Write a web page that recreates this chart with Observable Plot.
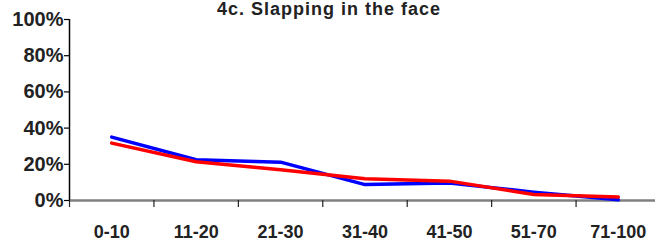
<!DOCTYPE html>
<html>
<head>
<meta charset="utf-8">
<script src="https://cdn.jsdelivr.net/npm/d3@7"></script>
<script src="https://cdn.jsdelivr.net/npm/@observablehq/plot@0.6"></script>
<style>
  html, body { margin: 0; padding: 0; background: #fff; }
  #wrap { position: relative; width: 655px; height: 244px; overflow: hidden; }
  #title { position: absolute; left: 0; top: 0; width: 658px; text-align: center;
    font-family: "Liberation Sans", Arial, sans-serif; font-weight: bold; font-size: 18px;
    line-height: 18px; letter-spacing: 1px; color: #222; z-index: 2; }
  svg { position: absolute; left: 0; top: 0; }
</style>
</head>
<body>
<div id="wrap"><div id="title"></div></div>
<script>
const title = "4c. Slapping in the face";
const categories = ["0-10", "11-20", "21-30", "31-40", "41-50", "51-70", "71-100"];
const seriesBlue = [35, 22.5, 21.2, 8.8, 9.6, 4.6, 0.4];
const seriesRed = [31.7, 21.4, 17, 12, 10.7, 3.3, 2];
const yTicks = [0, 20, 40, 60, 80, 100];

const n = categories.length;
const blueData = categories.map((c, i) => ({x: i + 0.5, v: seriesBlue[i]}));
const redData = categories.map((c, i) => ({x: i + 0.5, v: seriesRed[i]}));
const boundaries = d3.range(0, n + 1);
const centers = categories.map((c, i) => i + 0.5);

document.getElementById("title").textContent = title;

const chart = Plot.plot({
  width: 655,
  height: 244,
  marginLeft: 69,
  marginRight: 0,
  marginTop: 19,
  marginBottom: 44,
  style: {fontFamily: "Liberation Sans, Arial, sans-serif", fontWeight: "bold", color: "#222", background: "transparent"},
  x: {domain: [0, n], range: [69, 660]},
  y: {domain: [0, 100], range: [200, 19]},
  marks: [
    Plot.ruleY([0], {x1: 0, x2: n, stroke: "#808080", strokeWidth: 2.5}),
    Plot.ruleX([0], {y1: 0, y2: 100, stroke: "#000", strokeWidth: 1.5}),
    Plot.axisY({ticks: yTicks, tickSize: 5, tickPadding: 1, tickFormat: d => d + "%", fontSize: 20, fontWeight: "bold", stroke: "#000", strokeWidth: 1.2, fill: "#222", label: null}),
    Plot.axisX({ticks: boundaries, tickSize: 7, tickFormat: () => "", stroke: "#222", strokeWidth: 1.2, label: null}),
    Plot.axisX({ticks: centers, tickSize: 0, tickPadding: 25, tickFormat: v => categories[Math.floor(v)], fontSize: 18, fontWeight: "bold", fill: "#222", label: null}),
    Plot.line(blueData, {x: "x", y: "v", stroke: "#0000ff", strokeWidth: 3.5}),
    Plot.line(redData, {x: "x", y: "v", stroke: "#ff0000", strokeWidth: 3.5})
  ]
});
document.getElementById("wrap").appendChild(chart);
</script>
</body>
</html>
